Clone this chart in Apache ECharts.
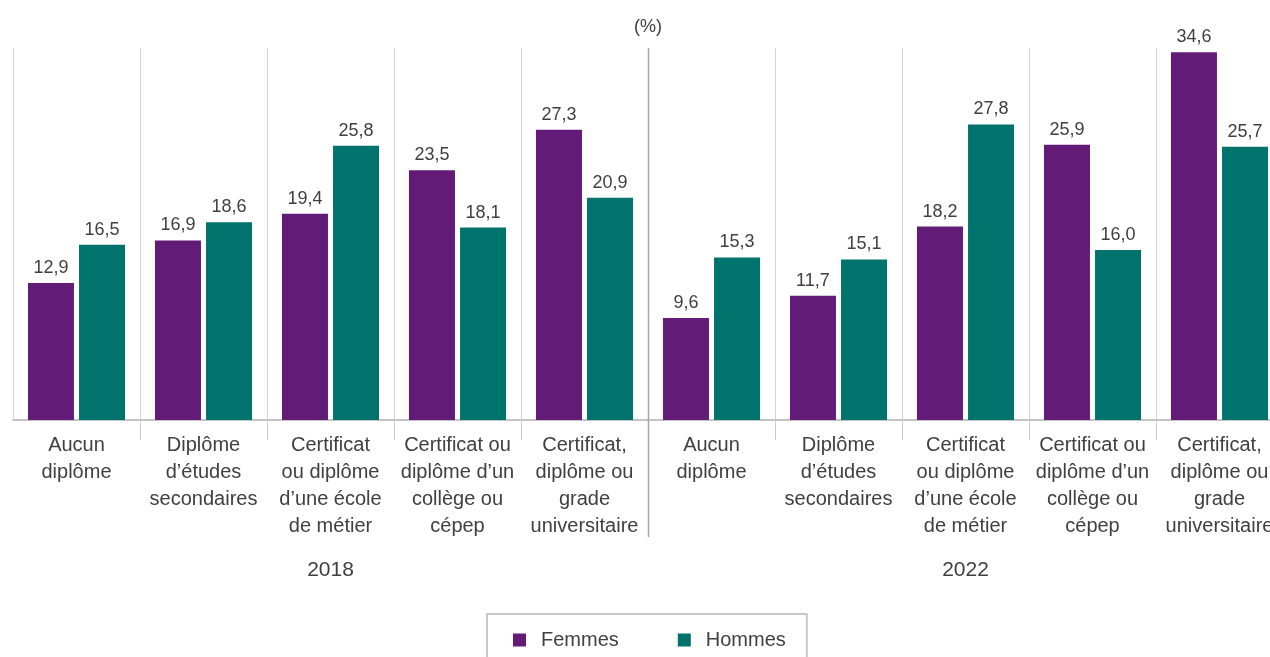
<!DOCTYPE html>
<html>
<head>
<meta charset="utf-8">
<script src="https://cdn.jsdelivr.net/npm/echarts@6/dist/echarts.min.js"></script>
<style>
  html, body { margin: 0; padding: 0; background: #fff; overflow: hidden; }
  #chart { width: 1283px; height: 657px; }
</style>
</head>
<body>
<div id="chart"></div>
<script>
// catégories (2 années x 5 niveaux de scolarité)
var categories = [
  'Aucun\ndiplôme', 'Diplôme\nd’études\nsecondaires', 'Certificat\nou diplôme\nd’une école\nde métier',
  'Certificat ou\ndiplôme d’un\ncollège ou\ncépep', 'Certificat,\ndiplôme ou\ngrade\nuniversitaire',
  'Aucun\ndiplôme', 'Diplôme\nd’études\nsecondaires', 'Certificat\nou diplôme\nd’une école\nde métier',
  'Certificat ou\ndiplôme d’un\ncollège ou\ncépep', 'Certificat,\ndiplôme ou\ngrade\nuniversitaire'
];
var years = ['2018', '2022'];
var femmes = [12.9, 16.9, 19.4, 23.5, 27.3, 9.6, 11.7, 18.2, 25.9, 34.6];
var hommes = [16.5, 18.6, 25.8, 18.1, 20.9, 15.3, 15.1, 27.8, 16.0, 25.7];

var font = '"Liberation Sans", Arial, sans-serif';
var txt = '#404040';

var myChart = echarts.init(document.getElementById('chart'));

function lbl (p) {
  return p.value.toFixed(1).replace('.', ',');
}

var option = {
  color: ['#621c78', '#00746c'],
  textStyle: { fontFamily: font },
  title: {
    text: '(%)',
    left: 634,
    top: 18,
    padding: 0,
    textStyle: { fontFamily: font, fontSize: 18, fontWeight: 'normal', color: txt }
  },
  legend: {
    data: ['Femmes', 'Hommes'],
    left: 487,
    top: 614,
    icon: 'rect',
    itemWidth: 13,
    itemHeight: 13,
    itemGap: 59,
    padding: [16, 21, 16, 26],
    borderColor: '#c8c8c8',
    borderWidth: 2,
    textStyle: { fontFamily: font, fontSize: 20, color: txt, padding: [0, 0, 0, 10] }
  },
  grid: {
    left: 13,
    right: 0,
    top: 48,
    bottom: 237
  },
  xAxis: [
    {
      type: 'category',
      data: categories,
      axisLine: { lineStyle: { color: '#c4c4c4', width: 2 } },
      axisTick: {
        show: true,
        length: 20,
        interval: function (index) { return index !== 0; }, // pas de trait sous le bord gauche
        lineStyle: { color: '#cccccc' }
      },
      splitLine: { show: true, interval: 0, lineStyle: { color: '#d4d4d4' } },
      axisLabel: {
        interval: 0,
        margin: 12,
        fontFamily: font,
        fontSize: 20,
        lineHeight: 27,
        color: txt
      }
    },
    {
      // années
      type: 'category',
      data: years,
      position: 'bottom',
      axisLine: { show: false },
      axisTick: { show: false },
      splitLine: { show: false },
      axisLabel: {
        margin: 140,
        fontFamily: font,
        fontSize: 21,
        color: txt
      }
    }
  ],
  yAxis: {
    type: 'value',
    min: 0,
    max: 35,
    show: false,
    splitLine: { show: false }
  },
  series: [
    {
      name: 'Femmes',
      type: 'bar',
      data: femmes,
      barWidth: 46,
      barGap: '11%',
      label: { show: true, position: 'top', distance: 6, formatter: lbl, fontFamily: font, fontSize: 18, color: txt }
    },
    {
      name: 'Hommes',
      type: 'bar',
      data: hommes,
      barWidth: 46,
      label: { show: true, position: 'top', distance: 6, formatter: lbl, fontFamily: font, fontSize: 18, color: txt }
    }
  ]
};

myChart.setOption(option);

// séparateur entre 2018 et 2022, placé à la frontière des catégories 4 et 5
var x4 = myChart.convertToPixel({ xAxisIndex: 0 }, 4);
var x5 = myChart.convertToPixel({ xAxisIndex: 0 }, 5);
var yTop = myChart.convertToPixel({ yAxisIndex: 0 }, 35);
var yBase = myChart.convertToPixel({ yAxisIndex: 0 }, 0);
var sepX = Math.round((x4 + x5) / 2) + 0.5;
myChart.setOption({
  graphic: [{
    type: 'line',
    shape: { x1: sepX, y1: yTop, x2: sepX, y2: yBase + 117 },
    style: { stroke: '#a6a6a6', lineWidth: 1.5 },
    z: 10
  }]
});
</script>
</body>
</html>
